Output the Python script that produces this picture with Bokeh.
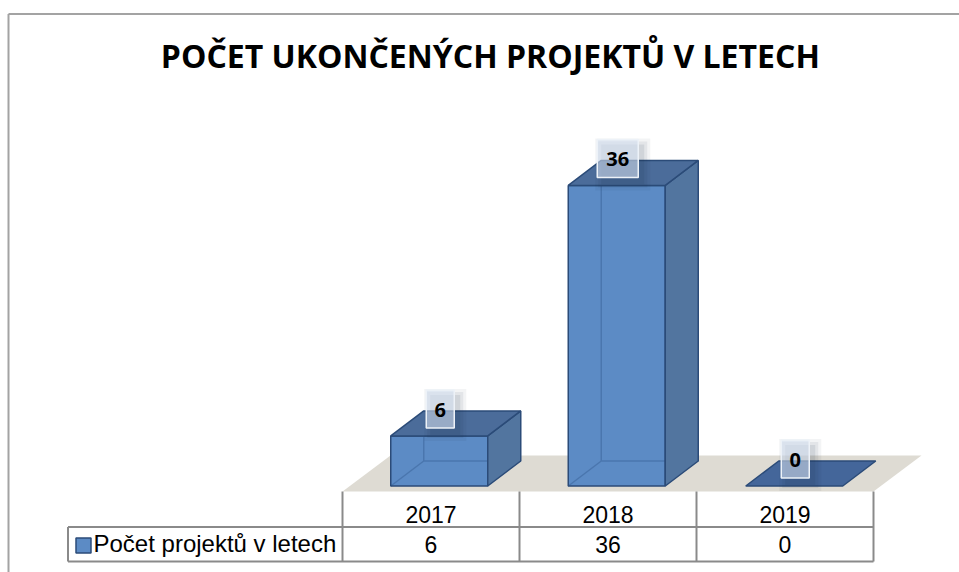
from bokeh.plotting import figure
from bokeh.models import Range1d
from bokeh.core.properties import value
from bokeh.embed import file_html
from bokeh.resources import INLINE

# ---------------- data ----------------
title_text = "POČET  UKONČENÝCH PROJEKTŮ V LETECH"
years = ["2017", "2018", "2019"]
counts = [6, 36, 0]
series_name = "Počet projektů v letech"

# ---------------- layout constants (page pixels) ----------------
W, H = 959, 572
X0_PX = 438.75    # centre of first category (front face)
STEP_PX = 177.5   # category spacing
BASE_PX = 485.5   # zero line, from top
UNIT_PX = 8.35    # pixels per count

xs0 = -X0_PX / STEP_PX
xs1 = xs0 + W / STEP_PX
ys1 = BASE_PX / UNIT_PX
ys0 = ys1 - H / UNIT_PX


def gx(px):
    return xs0 + px / STEP_PX


def gy(py):
    return ys1 - py / UNIT_PX


FRONT = "#5c8bc5"
SIDE = "#52759f"
TOP = "#4b6c9a"
FLAT = "#44669a"
EDGE = "#2b4b78"
HIDDEN = "#4a76ae"
FLOOR = "#dedbd3"
GRID = "#8a8a8a"

p = figure(width=W, height=H, x_range=Range1d(xs0, xs1), y_range=Range1d(ys0, ys1),
           output_backend="svg", toolbar_location=None, min_border=0,
           x_axis_location=None, y_axis_location=None)
p.grid.visible = False
p.outline_line_color = None
p.background_fill_color = "white"
p.border_fill_color = "white"

# outer frame
p.segment(x0=[gx(8), gx(8)], y0=[gy(13.5), gy(13.5)], x1=[gx(W + 2), gx(8)], y1=[gy(13.5), gy(H + 2)],
          line_color="#a3a3a3", line_width=2)

# title
p.text(x=[gx(494)], y=[gy(55)], text=[title_text], text_align="center", text_baseline="middle",
       text_font=value("Open Sans"), text_font_style="bold", text_font_size="32px", text_color="black")

# floor
bw = 97 / STEP_PX
ddx = 33 / STEP_PX
ddy = 25 / UNIT_PX
fl_l, fl_r = gx(342), gx(873)
fl_dx = 48 / STEP_PX
fl_front = gy(491)
fl_back = gy(455)
p.patch(x=[fl_l, fl_r, fl_r + fl_dx, fl_l + fl_dx], y=[fl_front, fl_front, fl_back, fl_back],
        fill_color=FLOOR, line_color=None)

# bars
for i, v in enumerate(counts):
    l, r = i - bw / 2, i + bw / 2
    if v > 0:
        p.quad(left=[l], right=[r], bottom=[0], top=[v], fill_color=FRONT, line_color=None)
        # hidden edges seen through the face
        p.multi_line(xs=[[l, l + ddx], [l + ddx, r + ddx], [l + ddx, l + ddx]],
                     ys=[[0, ddy], [ddy, ddy], [ddy, v + ddy]],
                     line_color=HIDDEN, line_width=1.5)
        p.quad(left=[l], right=[r], bottom=[0], top=[v], fill_color=None, line_color=EDGE, line_width=1.5)
        p.patch(x=[r, r + ddx, r + ddx, r], y=[0, ddy, v + ddy, v], fill_color=SIDE,
                line_color=EDGE, line_width=1.5)
        p.patch(x=[l, r, r + ddx, l + ddx], y=[v, v, v + ddy, v + ddy], fill_color=TOP,
                line_color=EDGE, line_width=1.5)
    else:
        p.patch(x=[l, r, r + ddx, l + ddx], y=[v, v, v + ddy, v + ddy], fill_color=FLAT,
                line_color=EDGE, line_width=1.5)

# data labels
lab_off = 27 / UNIT_PX
lab_x = [i + 1 / STEP_PX for i in range(len(counts))]
lab_y = [v + lab_off for v in counts]
lab_w = [15 + 13 * len(str(v)) for v in counts]
for grow, a in ((14, 0.05), (8, 0.07), (2, 0.09)):
    p.rect(x=[x + 5 / STEP_PX for x in lab_x], y=[y - 6 / UNIT_PX for y in lab_y],
           width=[w + grow for w in lab_w], height=[38 + grow] * len(counts),
           width_units="screen", height_units="screen",
           fill_color="#1a2a40", fill_alpha=a, line_color=None)
p.rect(x=lab_x, y=lab_y, width=lab_w, height=[38] * len(counts), width_units="screen",
       height_units="screen", fill_color="#d3e0f0", fill_alpha=0.6, line_color="#edf2f8",
       line_width=1.5)
p.text(x=lab_x, y=[y - 1 / UNIT_PX for y in lab_y], text=[str(v) for v in counts], text_align="center",
       text_baseline="middle", text_font=value("Open Sans"), text_font_style="bold",
       text_font_size="20px", text_color="black")

# data table
col_edges = [gx(342), gx(519), gx(696), gx(873)]
row_top, row_mid, row_bot = gy(491), gy(526.5), gy(561)
leg_left = gx(67.5)
seg_x0, seg_y0, seg_x1, seg_y1 = [], [], [], []
for xe in col_edges:
    seg_x0.append(xe); seg_y0.append(row_top); seg_x1.append(xe); seg_y1.append(row_bot)
seg_x0 += [leg_left, leg_left, leg_left]
seg_y0 += [row_mid, row_bot, row_mid]
seg_x1 += [col_edges[-1], col_edges[-1], leg_left]
seg_y1 += [row_mid, row_bot, row_bot]
p.segment(x0=seg_x0, y0=seg_y0, x1=seg_x1, y1=seg_y1, line_color=GRID, line_width=2)

col_mid = [(col_edges[k] + col_edges[k + 1]) / 2 for k in range(len(years))]
p.text(x=col_mid, y=[gy(513.5)] * len(years), text=years, text_align="center",
       text_baseline="middle", text_font=value("Liberation Sans"), text_font_size="23px",
       text_color="black")
p.text(x=col_mid, y=[gy(543.5)] * len(counts), text=[str(v) for v in counts],
       text_align="center", text_baseline="middle", text_font=value("Liberation Sans"),
       text_font_size="23px", text_color="black")

# legend key in table
p.rect(x=[gx(83)], y=[gy(545)], width=15, height=15, width_units="screen", height_units="screen",
       fill_color=FRONT, line_color=EDGE, line_width=1.5)
p.text(x=[gx(93)], y=[gy(543)], text=[series_name], text_align="left", text_baseline="middle",
       text_font=value("Liberation Sans"), text_font_size="24px", text_color="black")

open("out.html", "w").write(file_html(p, INLINE))
